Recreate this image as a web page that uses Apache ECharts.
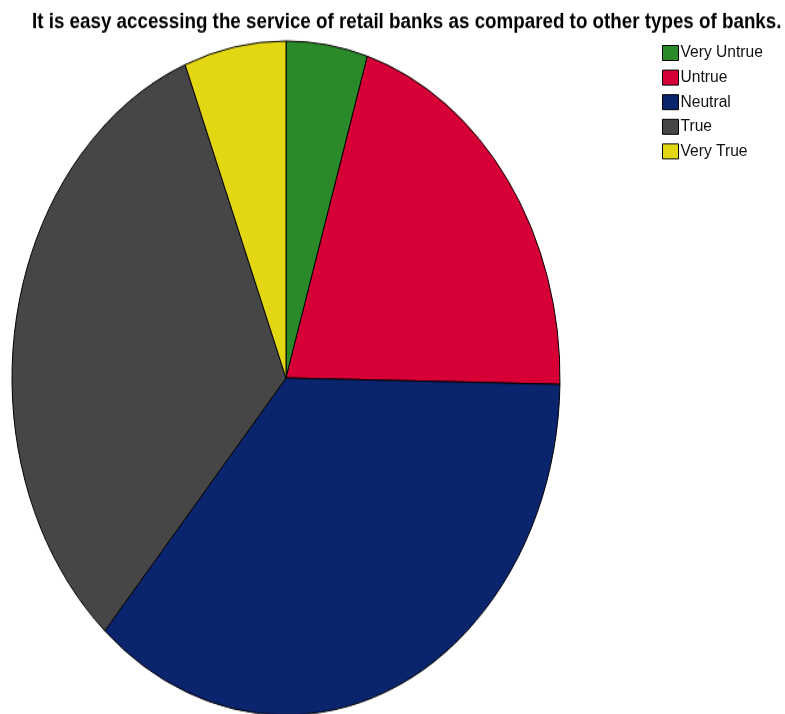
<!DOCTYPE html>
<html>
<head>
<meta charset="utf-8">
<script src="https://cdn.jsdelivr.net/npm/echarts@6/dist/echarts.min.js"></script>
<style>
html,body{margin:0;padding:0;background:#fff;}
#wrap{position:relative;width:785px;height:714px;overflow:hidden;}
#pie{position:absolute;left:0;top:0;width:785px;height:714px;transform-origin:286px 378px;transform:scaleY(1.23);}
#ttl{position:absolute;left:0;top:0;width:785px;height:40px;transform-origin:0 0;transform:scaleY(1.17);}
#over{position:absolute;left:0;top:0;width:785px;height:714px;}
</style>
</head>
<body>
<div id="wrap"><div id="pie"></div><div id="ttl"></div><div id="over"></div></div>
<script>
const titleText = "It is easy accessing the service of retail banks as compared to other types of banks.";
const categories = ["Very Untrue", "Untrue", "Neutral", "True", "Very True"];
const percents = [4.8, 20.5, 36.2, 32.5, 6.0];
const colors = ["#2a8a2a", "#d60036", "#0a246e", "#464646", "#e3d714"];

const data = categories.map((c, i) => ({ name: c, value: percents[i] }));

const pie = echarts.init(document.getElementById('pie'), null, { renderer: 'canvas' });
pie.setOption({
  animation: false,
  color: colors,
  series: [{
    type: 'pie',
    center: [286, 378],
    radius: 274,
    startAngle: 90,
    clockwise: true,
    label: { show: false },
    labelLine: { show: false },
    emphasis: { disabled: true },
    itemStyle: { borderColor: '#000', borderWidth: 1 },
    data: data
  }]
});

const ttl = echarts.init(document.getElementById('ttl'), null, { renderer: 'canvas' });
ttl.setOption({
  animation: false,
  backgroundColor: 'transparent',
  title: {
    text: titleText,
    left: 27,
    top: 4,
    textStyle: { fontFamily: 'Liberation Sans, Arial, sans-serif', fontWeight: 'bold', fontSize: 18.8, color: '#000' }
  }
});

const over = echarts.init(document.getElementById('over'), null, { renderer: 'canvas' });
over.setOption({
  animation: false,
  backgroundColor: 'transparent',
  color: colors,
  legend: {
    orient: 'vertical',
    left: 657,
    top: 40,
    itemWidth: 16,
    itemHeight: 15,
    itemGap: 8.6,
    icon: 'rect',
    selectedMode: false,
    itemStyle: { borderColor: '#000', borderWidth: 1 },
    textStyle: { fontFamily: 'Liberation Sans, Arial, sans-serif', fontSize: 15.6, lineHeight: 15, color: '#111', padding: [0, 0, 0, -3] },
    data: categories
  },
  series: [{
    type: 'pie',
    center: [-200, -200],
    radius: 1,
    label: { show: false },
    labelLine: { show: false },
    silent: true,
    data: data
  }]
});
</script>
</body>
</html>
